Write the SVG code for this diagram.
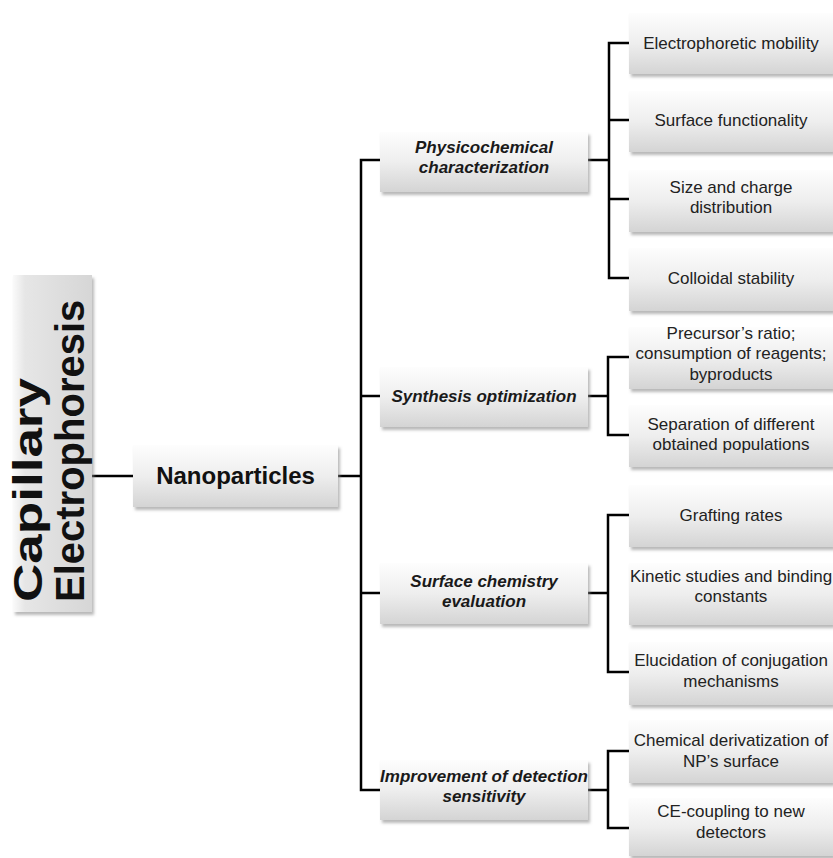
<svg xmlns="http://www.w3.org/2000/svg" width="833" height="858" viewBox="0 0 833 858">
<defs>
<linearGradient id="gv" x1="0" y1="0" x2="0" y2="1">
<stop offset="0" stop-color="#fdfdfd"/>
<stop offset="0.5" stop-color="#eeeeee"/>
<stop offset="1" stop-color="#d4d4d4"/>
</linearGradient>
<linearGradient id="gh" x1="0" y1="0" x2="1" y2="0">
<stop offset="0" stop-color="#fafafa"/>
<stop offset="0.15" stop-color="#e6e6e6"/>
<stop offset="1" stop-color="#d6d6d6"/>
</linearGradient>
<filter id="sh" x="-10%" y="-10%" width="130%" height="140%">
<feDropShadow dx="2" dy="3" stdDeviation="1.5" flood-color="#8a8a8a" flood-opacity="0.6"/>
</filter>
</defs>
<style>
.box{fill:url(#gv);filter:url(#sh);}
.cl{fill:none;stroke:#000;stroke-width:2.5;}
.cat{font-family:"Liberation Sans",Arial,sans-serif;font-size:17px;font-weight:bold;font-style:italic;fill:#1a1a1a;text-anchor:middle;}
.leaf{font-family:"Liberation Sans",Arial,sans-serif;font-size:17px;fill:#222;text-anchor:middle;}
.big{font-family:"Liberation Sans",Arial,sans-serif;font-weight:bold;fill:#111;}
</style>
<rect width="833" height="858" fill="#fff"/>
<g id="connectors">
<path class="cl" d="M92 476H133"/>
<path class="cl" d="M338 476H361"/>
<path class="cl" d="M380 160H361V790H380M361 396H380M361 593H380"/>
<path class="cl" d="M588 160H609M629 43H609V278H629M609 120H629M609 199H629"/>
<path class="cl" d="M588 396H608M629 357H608V435H629"/>
<path class="cl" d="M588 593H608M629 515H608V672H629"/>
<path class="cl" d="M588 790H608M629 751H608V828H629"/>
</g>
<g id="capillary-electrophoresis">
<rect x="13" y="275" width="79" height="337" fill="url(#gh)" filter="url(#sh)"/>
<text class="big" font-size="40" transform="translate(42,602) rotate(-90)" textLength="224" lengthAdjust="spacingAndGlyphs">Capillary</text>
<text class="big" font-size="40" transform="translate(84,602) rotate(-90)">Electrophoresis</text>
</g>
<g id="nanoparticles">
<rect class="box" x="133" y="445" width="205" height="62"/>
<text class="big" font-size="24" x="235.5" y="484" text-anchor="middle">Nanoparticles</text>
</g>
<g id="physicochemical">
<rect class="box" x="380" y="132" width="208" height="60"/>
<text class="cat" x="484" y="153">Physicochemical</text>
<text class="cat" x="484" y="173">characterization</text>
</g>
<g id="synthesis">
<rect class="box" x="380" y="367" width="208" height="60"/>
<text class="cat" x="484" y="402">Synthesis optimization</text>
</g>
<g id="surface-chemistry">
<rect class="box" x="380" y="563" width="208" height="61"/>
<text class="cat" x="484" y="587">Surface chemistry</text>
<text class="cat" x="484" y="607">evaluation</text>
</g>
<g id="improvement">
<rect class="box" x="380" y="760" width="208" height="60"/>
<text class="cat" x="484" y="782">Improvement of detection</text>
<text class="cat" x="484" y="802">sensitivity</text>
</g>
<g id="electrophoretic-mobility">
<rect class="box" x="629" y="13" width="204" height="61"/>
<text class="leaf" x="731" y="49">Electrophoretic mobility</text>
</g>
<g id="surface-functionality">
<rect class="box" x="629" y="91" width="204" height="61"/>
<text class="leaf" x="731" y="126">Surface functionality</text>
</g>
<g id="size-charge">
<rect class="box" x="629" y="170" width="204" height="62"/>
<text class="leaf" x="731" y="193">Size and charge</text>
<text class="leaf" x="731" y="213">distribution</text>
</g>
<g id="colloidal-stability">
<rect class="box" x="629" y="248" width="204" height="63"/>
<text class="leaf" x="731" y="284">Colloidal stability</text>
</g>
<g id="precursor">
<rect class="box" x="629" y="327" width="204" height="62"/>
<text class="leaf" x="731" y="339">Precursor’s ratio;</text>
<text class="leaf" x="731" y="359">consumption of reagents;</text>
<text class="leaf" x="731" y="380">byproducts</text>
</g>
<g id="separation">
<rect class="box" x="629" y="405" width="204" height="62"/>
<text class="leaf" x="731" y="430">Separation of different</text>
<text class="leaf" x="731" y="450">obtained populations</text>
</g>
<g id="grafting">
<rect class="box" x="629" y="485" width="204" height="62"/>
<text class="leaf" x="731" y="521">Grafting rates</text>
</g>
<g id="kinetic">
<rect class="box" x="629" y="563" width="204" height="62"/>
<text class="leaf" x="731" y="582">Kinetic studies and binding</text>
<text class="leaf" x="731" y="602">constants</text>
</g>
<g id="elucidation">
<rect class="box" x="629" y="642" width="204" height="63"/>
<text class="leaf" x="731" y="666">Elucidation of conjugation</text>
<text class="leaf" x="731" y="687">mechanisms</text>
</g>
<g id="chemical-derivatization">
<rect class="box" x="629" y="720" width="204" height="63"/>
<text class="leaf" x="731" y="746">Chemical derivatization of</text>
<text class="leaf" x="731" y="767">NP’s surface</text>
</g>
<g id="ce-coupling">
<rect class="box" x="629" y="798" width="204" height="58"/>
<text class="leaf" x="731" y="817">CE-coupling to new</text>
<text class="leaf" x="731" y="838">detectors</text>
</g>
</svg>
